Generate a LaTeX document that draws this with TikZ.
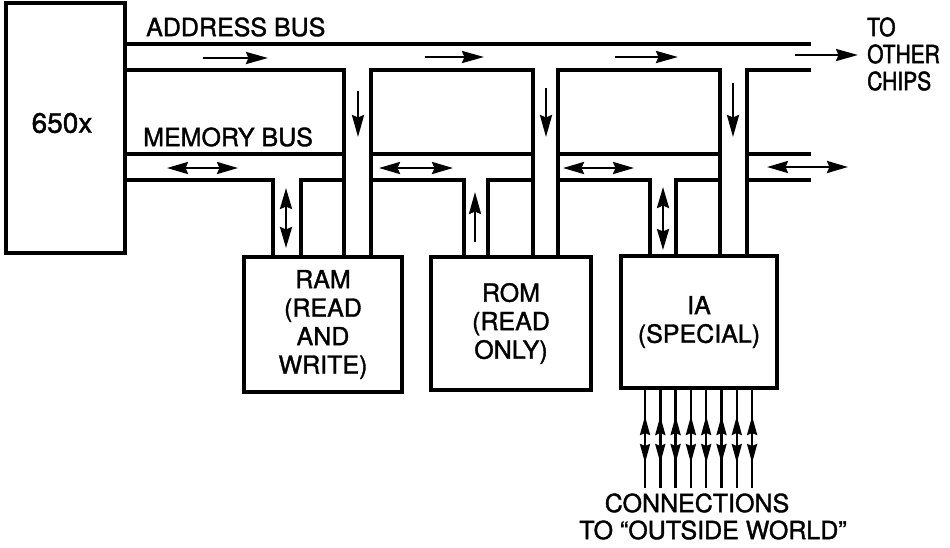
\documentclass[tikz,border=0pt]{standalone}
\usepackage{fontspec}
\setmainfont[FakeBold=1.4]{TeX Gyre Heros}
\newfontfamily\narrowfont[FakeStretch=0.84,FakeBold=1.8]{TeX Gyre Heros}
\usetikzlibrary{arrows.meta}
\begin{document}
\begin{tikzpicture}[x=1pt,y=-1pt,
  bus/.style={line width=3.2pt},
  box/.style={draw,line width=4.5pt,inner sep=0pt,align=center,
              font=\fontsize{25}{28.5}\selectfont},
  lbl/.style={inner sep=0pt,font=\fontsize{25}{27}\selectfont},
  one/.style={line width=2.6pt,-{Stealth[length=22pt,width=12pt,inset=2.5pt]}},
  two/.style={line width=2.6pt,{Stealth[length=21pt,width=12pt,inset=2.5pt]}-{Stealth[length=21pt,width=12pt,inset=2.5pt]}},
  pin/.style={line width=2.4pt,{Stealth[length=19pt,width=10pt,inset=2pt]}-{Stealth[length=19pt,width=10pt,inset=2pt]}},
]
\useasboundingbox (0,0) rectangle (950,547);

% boxes
\node[box,minimum width=119pt,minimum height=250pt] (cpu) at (65.5,128) {};
\node[lbl,font=\fontsize{28}{30}\selectfont] (cpulbl) at (62,123) {650x};
\node[box,minimum width=158pt,minimum height=135pt] (ram) at (323,324.5) {RAM\\(READ\\AND\\WRITE)};
\node[box,minimum width=160pt,minimum height=133pt] (rom) at (511,323.5) {ROM\\(READ\\ONLY)};
\node[box,minimum width=156pt,minimum height=132pt] (ia) at (699,322) {IA\\(SPECIAL)};

% address bus
\draw[bus] (cpu.east |- 0,44) -- (811,44);
\draw[bus] (cpu.east |- 0,70) -- (344,70) -- (344,0 |- ram.north);
\draw[bus] (371,0 |- ram.north) -- (371,70) -- (533,70) -- (533,0 |- rom.north);
\draw[bus] (558,0 |- rom.north) -- (558,70) -- (720,70) -- (720,0 |- ia.north);
\draw[bus] (747,0 |- ia.north) -- (747,70) -- (811,70);

% memory bus
\draw[bus] (cpu.east |- 0,154) -- (344,154);
\draw[bus] (371,154) -- (533,154);
\draw[bus] (558,154) -- (720,154);
\draw[bus] (747,154) -- (811,154);
\draw[bus] (cpu.east |- 0,180) -- (273,180) -- (273,0 |- ram.north);
\draw[bus] (301,0 |- ram.north) -- (301,180) -- (344,180);
\draw[bus] (371,180) -- (464,180) -- (464,0 |- rom.north);
\draw[bus] (488,0 |- rom.north) -- (488,180) -- (533,180);
\draw[bus] (558,180) -- (650,180) -- (650,0 |- ia.north);
\draw[bus] (676,0 |- ia.north) -- (676,180) -- (720,180);
\draw[bus] (747,180) -- (811,180);

% address arrows
\draw[one] (203,58) -- (268,58);
\draw[one] (425,57) -- (484,57);
\draw[one] (615,57) -- (678,57);
\draw[one] (795,55) -- (858,55);
\draw[one] (358,91) -- (358,137);
\draw[one] (546,88) -- (546,137);
\draw[one] (733,83) -- (733,137);

% memory arrows
\draw[two] (167,168) -- (238,168);
\draw[two] (379,168) -- (453,168);
\draw[two] (563,168) -- (634,168);
\draw[two] (767,167) -- (848,167);
\draw[two] (286,188) -- (286,248);
\draw[one] (475,242) -- (475,192);
\draw[two] (663,187) -- (663,250);

% IA pins
\foreach \i in {0,...,7}{
  \draw[line width=2.4pt] ({645+15.3*\i},0 |- ia.south) -- ({645+15.3*\i},488);
  \draw[pin] ({645+15.3*\i},416) -- ({645+15.3*\i},463);
}

% labels
\node[lbl,anchor=west] (ab) at (146,27) {ADDRESS BUS};
\node[lbl,anchor=west] (mb) at (143,137) {MEMORY BUS};
\node[lbl,anchor=west,align=left,font=\fontsize{25}{27}\narrowfont] (oc) at (867,54) {TO\\OTHER\\CHIPS};
\node[lbl] (cn) at (697,503) {CONNECTIONS};
\node[lbl] (ow) at (713,530) {TO “OUTSIDE WORLD”};
\end{tikzpicture}
\end{document}
